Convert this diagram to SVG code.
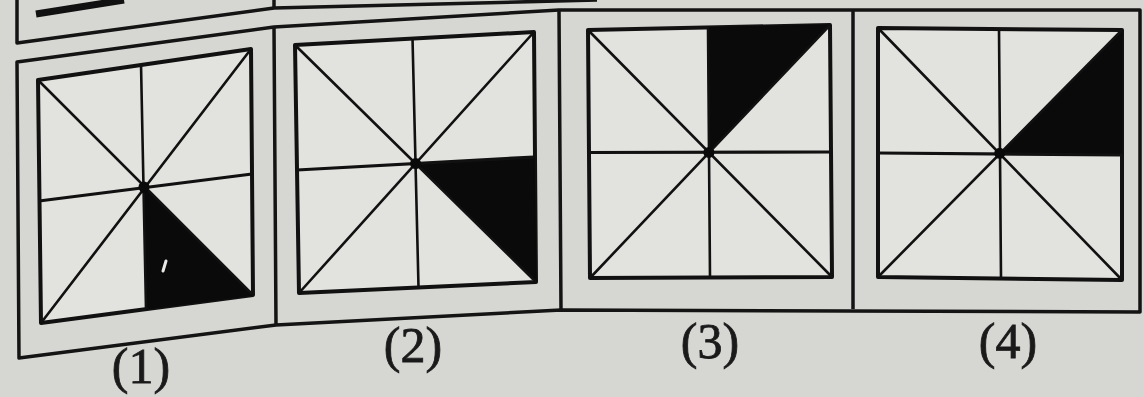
<svg xmlns="http://www.w3.org/2000/svg" width="1144" height="397" viewBox="0 0 1144 397">
<style>
.frame{fill:none;stroke:#141414;stroke-width:3.5;stroke-linejoin:round}
.sq{fill:#e2e2de;stroke:#111;stroke-width:4;stroke-linejoin:round}
.ln{stroke:#111;stroke-width:2.6;fill:none}
.hl{stroke:#111;stroke-width:3.2;fill:none}
.sh{fill:#0a0a0a;stroke:#0a0a0a;stroke-width:1;stroke-linejoin:round}
.dot{fill:#0a0a0a}
.lbl{font-family:"Liberation Serif","Times New Roman",serif;font-size:50px;fill:#1a1a1a;stroke:#1a1a1a;stroke-width:0.8;text-anchor:middle}
</style>
<rect x="0" y="0" width="1144" height="397" fill="#d6d6d2"/>
<g id="prev-row">
<path class="frame" d="M17,0 L17,43 L274,8 L597,0"/>
<path d="M36,14 L124,0" stroke="#111" stroke-width="7" fill="none"/>
<path class="frame" d="M274,0 L274,8"/>
</g>
<g id="outer-frame">
<path d="M17,62 L274,27 L559,10 L1140,10 L1140,312 L561,310 L276,325 L19,358 Z" fill="#dadad6" class="frame"/>
<path class="frame" d="M274,27 L276,325 M559,10 L561,310 M853,10 L853,309"/>
</g>
<g id="panel1">
<path class="sq" d="M38,80 L251,49 L253,295 L41,323 Z"/>
<path class="sh" d="M144,187 L146,309 L253,295 Z"/>
<path class="ln" d="M38,80 L253,295 M251,49 L41,323 M141,64 L146,309"/>
<path class="hl" d="M39,201 L252,174"/>
<circle class="dot" cx="144" cy="187" r="5.5"/>
<path d="M166,261 L163,271" stroke="#e8e8e4" stroke-width="3" stroke-linecap="round"/>
</g>
<g id="panel2">
<path class="sq" d="M295,45 L534,32 L536,282 L299,293 Z"/>
<path class="sh" d="M415.6,163.6 L534,157 L536,282 Z"/>
<path class="ln" d="M295,45 L536,282 M534,32 L299,293 M412.5,38 L418.5,287"/>
<path class="hl" d="M297,170 L534,157"/>
<circle class="dot" cx="415.6" cy="163.6" r="5.5"/>
</g>
<g id="panel3">
<path class="sq" d="M588,30 L830,25 L832,277 L590,278 Z"/>
<path class="sh" d="M708.9,152.4 L708,27.5 L830,25 Z"/>
<path class="ln" d="M588,30 L832,277 M830,25 L590,278 M708,27 L710,277"/>
<path class="hl" d="M588,152.5 L832,152"/>
<circle class="dot" cx="708.9" cy="152.4" r="5.5"/>
</g>
<g id="panel4">
<path class="sq" d="M878,28 L1122,30 L1122,280 L878,277 Z"/>
<path class="sh" d="M999.7,153.3 L1122,155 L1122,30 Z"/>
<path class="ln" d="M878,28 L1122,280 M1122,30 L878,277 M999,29 L1001,278"/>
<path class="hl" d="M878,153 L1122,155"/>
<circle class="dot" cx="999.7" cy="153.3" r="5.5"/>
</g>
<g id="labels">
<text class="lbl" x="141" y="383">(1)</text>
<text class="lbl" x="413" y="362">(2)</text>
<text class="lbl" x="710" y="358">(3)</text>
<text class="lbl" x="1008" y="358">(4)</text>
</g>
</svg>
